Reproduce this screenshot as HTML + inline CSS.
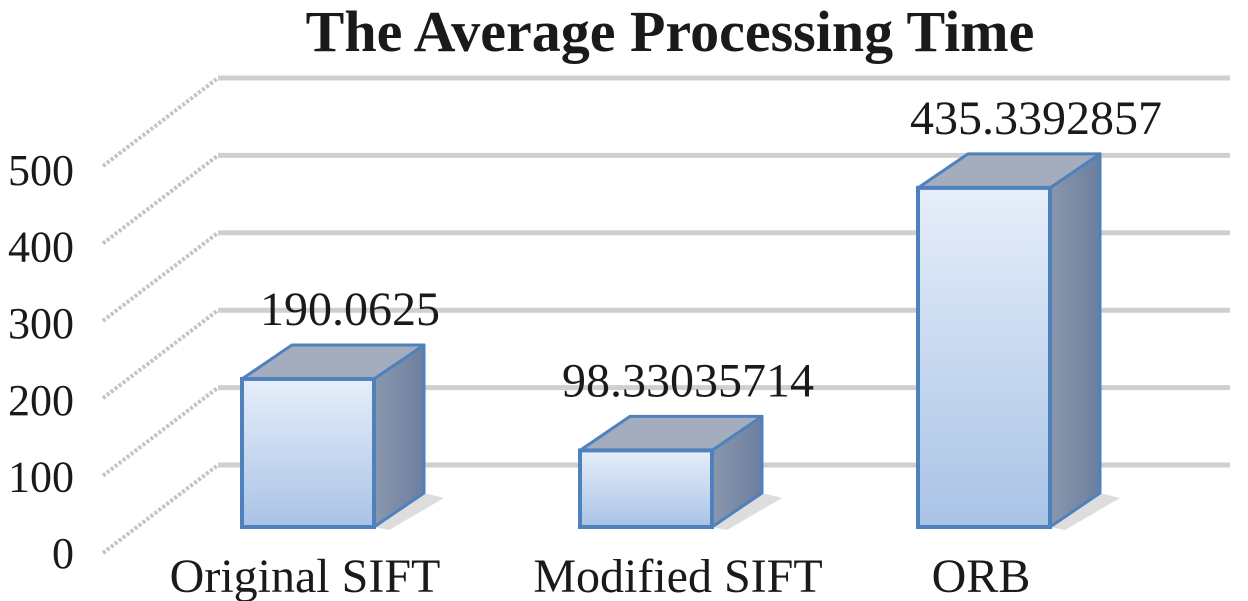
<!DOCTYPE html>
<html><head><meta charset="utf-8"><style>
html,body{margin:0;padding:0;background:#fff;}
svg{display:block;font-family:"Liberation Serif",serif;}
</style></head><body>
<svg id="chart" width="1248" height="601" viewBox="0 0 1248 601">
<defs>
<linearGradient id="front" x1="0" y1="0" x2="0" y2="1"><stop offset="0" stop-color="#e6eefa"/><stop offset="1" stop-color="#a9c3e6"/></linearGradient>
<linearGradient id="side" x1="0" y1="0" x2="1" y2="0"><stop offset="0" stop-color="#8a97ad"/><stop offset="1" stop-color="#6c7f9f"/></linearGradient>
</defs>
<text x="670" y="51" text-anchor="middle" font-size="58" font-weight="bold" fill="#1a1a1a" font-family="Liberation Serif, serif">The Average Processing Time</text>
<g id="grid"></g><g id="ticks"></g><g id="bars"></g><g id="labels"></g>
</svg>
<script>
const categories = ["Original SIFT", "Modified SIFT", "ORB"];
const values = [190.0625, 98.33035714, 435.3392857];
const valueLabels = ["190.0625", "98.33035714", "435.3392857"];
const tickValues = [0, 100, 200, 300, 400, 500];
const tickLabels = ["0", "100", "200", "300", "400", "500"];

const NS = "http://www.w3.org/2000/svg";
function mk(tag, attrs, parent){const e=document.createElementNS(NS,tag);for(const k in attrs)e.setAttribute(k,attrs[k]);parent.appendChild(e);return e;}
const gridY = v => 465 - v * 0.774;
const tickY = v => 553 - v * 0.766;
const barY = v => 527 - v * 0.779;
const barX = i => 308 + i * 338;
const BW = 132, DX = 50, DY = -34;

const grid = document.getElementById('grid');
tickValues.forEach(v=>{
  const y = gridY(v);
  const l1 = mk('line',{x1:218,y1:y,x2:1230,y2:y,stroke:'#cfcfcf','stroke-width':5},grid);
  
  
  const l2 = mk('line',{x1:103,y1:y+88,x2:218,y2:y,stroke:'#c4c4c4','stroke-width':4,'stroke-dasharray':'3 2'},grid);
  
  
});
const ticks = document.getElementById('ticks');
tickValues.forEach((v,i)=>{
  const t = mk('text',{x:74,y:tickY(v)+15,'text-anchor':'end','font-size':44,fill:'#1a1a1a'},ticks);
  t.textContent = tickLabels[i];
  
  
});
const bars = document.getElementById('bars');
const labels = document.getElementById('labels');
categories.forEach((c,i)=>{
  const x0 = barX(i)-BW/2, x1 = barX(i)+BW/2, yt = barY(values[i]), yb = barY(0);
  const g = mk('g',{},bars);
  
  
  mk('polygon',{points:`${x1},${yb} ${x1+DX},${yb+DY} ${x1+DX+20},${yb+DY+5} ${x1+15},${yb+3}`,fill:'#bbb',opacity:0.5},g);
  mk('polygon',{points:`${x1},${yt} ${x1+DX},${yt+DY} ${x1+DX},${yb+DY} ${x1},${yb}`,fill:'url(#side)',stroke:'#4f81bd','stroke-width':3,'stroke-linejoin':'round'},g);
  mk('polygon',{points:`${x0},${yt} ${x0+DX},${yt+DY} ${x1+DX},${yt+DY} ${x1},${yt}`,fill:'#a3adbd',stroke:'#4f81bd','stroke-width':3,'stroke-linejoin':'round'},g);
  mk('rect',{x:x0,y:yt,width:BW,height:yb-yt,fill:'url(#front)',stroke:'#4f81bd','stroke-width':4},g);
  const vl = mk('text',{x:barX(i)+42+(i==2?10:0),y:yt+DY-20,'text-anchor':'middle','font-size':48,fill:'#1a1a1a'},labels);
  vl.textContent = valueLabels[i];
  
  
  const cl = mk('text',{x:barX(i)-3+(i==1?35:0),y:592,'text-anchor':'middle','font-size':48,fill:'#1a1a1a'},labels);
  cl.textContent = c;
  
  
});
</script>
</body></html>
